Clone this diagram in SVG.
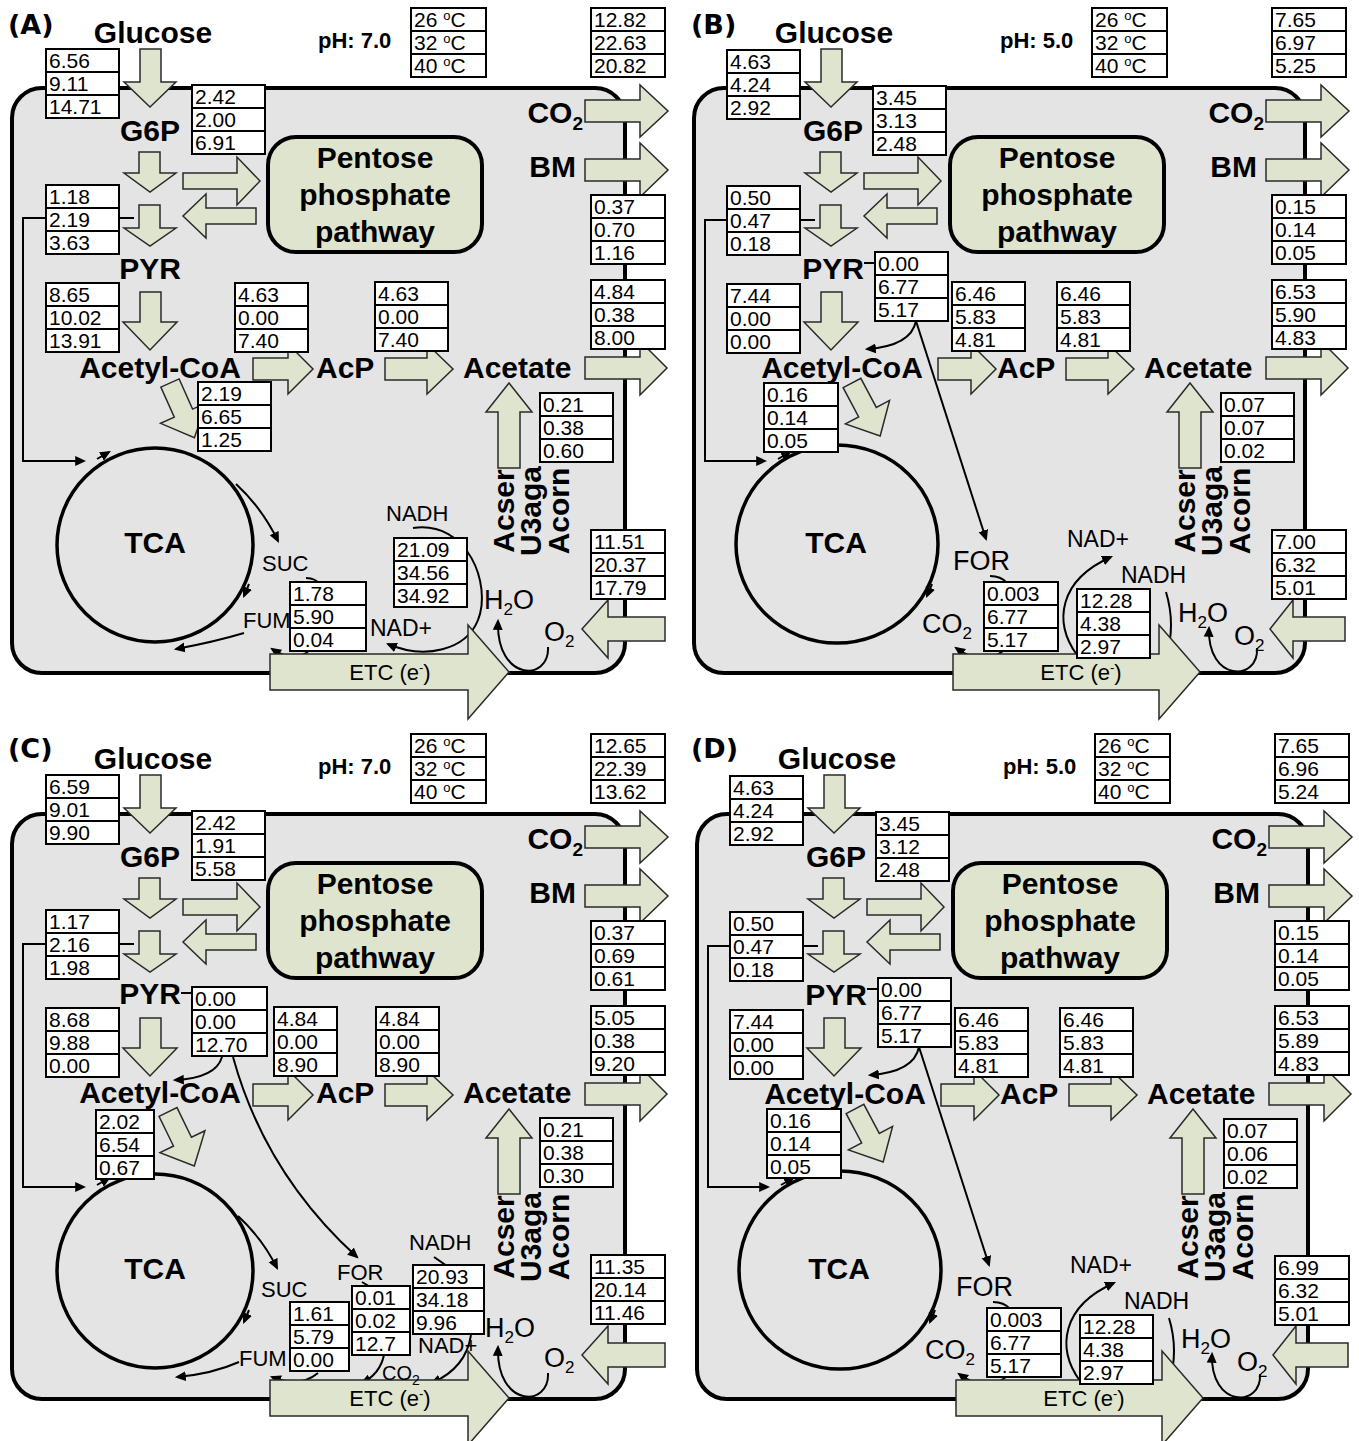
<svg xmlns="http://www.w3.org/2000/svg" width="1359" height="1441" viewBox="0 0 1359 1441">
<defs>
<style>
.cell{fill:#e4e4e4;stroke:#000;stroke-width:4}
.ppp{fill:#dfe4cf;stroke:#000;stroke-width:4}
.ba{fill:#dfe4cf;stroke:#2a2a2a;stroke-width:1.5}
.fb{fill:#fff;stroke:#000;stroke-width:2}
.gl{fill:none;stroke:#000;stroke-width:2}
.ln{fill:none;stroke:#000;stroke-width:2}
.ar{fill:none;stroke:#000;stroke-width:2;marker-end:url(#ah)}
.tca{fill:none;stroke:#000;stroke-width:3.5}
text{font-family:"Liberation Sans",Arial,sans-serif;fill:#000}
.pl{font-family:"DejaVu Sans",sans-serif;font-weight:bold;font-size:27px}
.lb{font-weight:bold;font-size:30px}
.ph{font-weight:bold;font-size:22px}
.n{font-size:21px}
.s{font-size:22px}
.s23{font-size:23px}
.m{font-size:27px}
.e{font-size:22px}
.c2{font-size:20px}
.sup{font-size:13px}
.sub{font-size:19px}
.subm{font-size:17px}
.subs{font-size:14px}
.mid{text-anchor:middle}
.end{text-anchor:end}
</style>
<marker id="ah" viewBox="0 0 10 10" refX="8" refY="5" markerWidth="11" markerHeight="11" markerUnits="userSpaceOnUse" orient="auto"><path d="M0,0.5L10,5L0,9.5Z" fill="#000"/></marker>
</defs>
<rect width="1359" height="1441" fill="#fff"/>

<!-- ================= PANEL A ================= -->
<g id="panelA">
<text id="A-tag" class="pl" x="8" y="34">(A)</text>
<g id="A-cell"><rect class="cell" x="12" y="88" width="613" height="585" rx="30"/></g>
<g id="A-connectors">
 <ellipse class="tca" cx="155" cy="545" rx="98" ry="97"/>
 <path class="ar" d="M46,218H23V461H84"/>
 <path class="ln" d="M119,218H134"/>
 <path class="ar" d="M97,459L109,452"/>
 <path class="ar" d="M249,584L244,596"/>
 <path class="ar" d="M236,484Q262,508 278,541"/>
 <path class="ln" d="M306,578Q316,578 320,585"/>
 <path class="ar" d="M244,633Q214,642 176,649"/>
 <path class="ar" d="M308,652Q292,662 272,649"/>
 <path class="ar" d="M413,528C468,520 492,585 478,620C466,650 425,660 388,644"/>
 <path class="ar" d="M548,647C550,682 496,682 498,621"/>
 <path class="ba" d="M140,49H161V82H176L150,107L124,82H140Z"/>
 <path class="ba" d="M139,152H160V173H176L150,192L124,173H139Z"/>
 <path class="ba" d="M139,205H160V228H176L150,246L124,228H139Z"/>
 <path class="ba" d="M183,173H237V157L260,181L237,205V189H183Z"/>
 <path class="ba" d="M256,208V224H206V238L183,216L206,194V208Z"/>
 <path class="ba" d="M140,292H161V322H177L150,350L123,322H140Z"/>
 <path class="ba" d="M253,358H288V344L313,369L288,394V380H253Z"/>
 <path class="ba" d="M385,358H427V344L453,369L427,394V380H385Z"/>
 <path class="ba" d="M585,357H640V341L667,368L640,395V379H585Z"/>
 <path class="ba" d="M585,100H640V85L668,111L640,137V122H585Z"/>
 <path class="ba" d="M585,159H640V143L668,170L640,197V181H585Z"/>
 <path class="ba" d="M498,468V412H486L509,383L532,412H520V468Z"/>
 <path class="ba" d="M-10,0H10V33H25L0,60L-25,33H-10Z" transform="translate(170,383) rotate(-24)"/>
 <path class="ba" d="M665,617H608V600L582,629L608,658V641H665Z"/>
 <path class="ba" d="M270,654H468V625L509,672L468,719V690H270Z"/>
</g>
<g id="A-ppp"><rect class="ppp" x="268" y="137" width="214" height="115" rx="28"/><text class="lb mid" x="375" y="168">Pentose</text><text class="lb mid" x="375" y="205">phosphate</text><text class="lb mid" x="375" y="242">pathway</text></g>
<g id="A-temp" transform="translate(411,8)"><rect class="fb" width="75" height="69"/><path class="gl" d="M0,23H75M0,46H75"/><text class="n" x="3" y="19">26 <tspan class="sup" dy="-7">o</tspan><tspan dy="7">C</tspan></text><text class="n" x="3" y="42">32 <tspan class="sup" dy="-7">o</tspan><tspan dy="7">C</tspan></text><text class="n" x="3" y="65">40 <tspan class="sup" dy="-7">o</tspan><tspan dy="7">C</tspan></text></g>
<g id="A-v-glc" transform="translate(46,49)"><rect class="fb" width="73" height="69"/><path class="gl" d="M0,23H73M0,46H73"/><text class="n" x="3" y="19">6.56</text><text class="n" x="3" y="42">9.11</text><text class="n" x="3" y="65">14.71</text></g>
<g id="A-v-ppp" transform="translate(192,85)"><rect class="fb" width="73" height="69"/><path class="gl" d="M0,23H73M0,46H73"/><text class="n" x="3" y="19">2.42</text><text class="n" x="3" y="42">2.00</text><text class="n" x="3" y="65">6.91</text></g>
<g id="A-v-co2" transform="translate(591,8)"><rect class="fb" width="74" height="69"/><path class="gl" d="M0,23H74M0,46H74"/><text class="n" x="3" y="19">12.82</text><text class="n" x="3" y="42">22.63</text><text class="n" x="3" y="65">20.82</text></g>
<g id="A-v-bm" transform="translate(591,195)"><rect class="fb" width="74" height="69"/><path class="gl" d="M0,23H74M0,46H74"/><text class="n" x="3" y="19">0.37</text><text class="n" x="3" y="42">0.70</text><text class="n" x="3" y="65">1.16</text></g>
<g id="A-v-pyr" transform="translate(46,185)"><rect class="fb" width="73" height="69"/><path class="gl" d="M0,23H73M0,46H73"/><text class="n" x="3" y="19">1.18</text><text class="n" x="3" y="42">2.19</text><text class="n" x="3" y="65">3.63</text></g>
<g id="A-v-pdh" transform="translate(46,283)"><rect class="fb" width="73" height="69"/><path class="gl" d="M0,23H73M0,46H73"/><text class="n" x="3" y="19">8.65</text><text class="n" x="3" y="42">10.02</text><text class="n" x="3" y="65">13.91</text></g>
<g id="A-v-pta" transform="translate(235,283)"><rect class="fb" width="73" height="69"/><path class="gl" d="M0,23H73M0,46H73"/><text class="n" x="3" y="19">4.63</text><text class="n" x="3" y="42">0.00</text><text class="n" x="3" y="65">7.40</text></g>
<g id="A-v-ack" transform="translate(375,282)"><rect class="fb" width="73" height="69"/><path class="gl" d="M0,23H73M0,46H73"/><text class="n" x="3" y="19">4.63</text><text class="n" x="3" y="42">0.00</text><text class="n" x="3" y="65">7.40</text></g>
<g id="A-v-ace" transform="translate(591,280)"><rect class="fb" width="74" height="69"/><path class="gl" d="M0,23H74M0,46H74"/><text class="n" x="3" y="19">4.84</text><text class="n" x="3" y="42">0.38</text><text class="n" x="3" y="65">8.00</text></g>
<g id="A-v-cs" transform="translate(198,382)"><rect class="fb" width="73" height="69"/><path class="gl" d="M0,23H73M0,46H73"/><text class="n" x="3" y="19">2.19</text><text class="n" x="3" y="42">6.65</text><text class="n" x="3" y="65">1.25</text></g>
<g id="A-v-acein" transform="translate(540,393)"><rect class="fb" width="73" height="69"/><path class="gl" d="M0,23H73M0,46H73"/><text class="n" x="3" y="19">0.21</text><text class="n" x="3" y="42">0.38</text><text class="n" x="3" y="65">0.60</text></g>
<g id="A-v-sdh" transform="translate(290,582)"><rect class="fb" width="76" height="69"/><path class="gl" d="M0,23H76M0,46H76"/><text class="n" x="3" y="19">1.78</text><text class="n" x="3" y="42">5.90</text><text class="n" x="3" y="65">0.04</text></g>
<g id="A-v-nadh" transform="translate(394,538)"><rect class="fb" width="73" height="69"/><path class="gl" d="M0,23H73M0,46H73"/><text class="n" x="3" y="19">21.09</text><text class="n" x="3" y="42">34.56</text><text class="n" x="3" y="65">34.92</text></g>
<g id="A-v-o2" transform="translate(591,530)"><rect class="fb" width="74" height="69"/><path class="gl" d="M0,23H74M0,46H74"/><text class="n" x="3" y="19">11.51</text><text class="n" x="3" y="42">20.37</text><text class="n" x="3" y="65">17.79</text></g>
<g id="A-ph"><text class="ph" x="318" y="48">pH: 7.0</text></g>
<g id="A-glucose"><text class="lb mid" x="153" y="43">Glucose</text></g>
<g id="A-g6p"><text class="lb mid" x="150" y="141">G6P</text></g>
<g id="A-pyr"><text class="lb mid" x="150" y="279">PYR</text></g>
<g id="A-accoa"><text class="lb mid" x="160" y="378">Acetyl-CoA</text></g>
<g id="A-acp"><text class="lb" x="316" y="378">AcP</text></g>
<g id="A-acetate"><text class="lb" x="463" y="378">Acetate</text></g>
<g id="A-co2"><text class="lb end" x="583" y="123">CO<tspan class="sub" dy="7">2</tspan></text></g>
<g id="A-bm"><text class="lb end" x="576" y="177">BM</text></g>
<g id="A-strains" class="lb"><text transform="translate(514,511) rotate(-90)" class="mid">Acser</text><text transform="translate(541,511) rotate(-90)" class="mid">U3aga</text><text transform="translate(569,511) rotate(-90)" class="mid">Acorn</text></g>
<g id="A-tca"><text class="lb mid" x="155" y="553">TCA</text></g>
<g id="A-suc"><text class="s" x="262" y="571">SUC</text></g>
<g id="A-fum"><text class="s" x="243" y="628">FUM</text></g>
<g id="A-nadh"><text class="s" x="386" y="521">NADH</text></g>
<g id="A-nad"><text class="s23" x="370" y="636">NAD+</text></g>
<g id="A-h2o"><text class="m" x="484" y="609">H<tspan class="subm" dy="6">2</tspan><tspan dy="-6">O</tspan></text></g>
<g id="A-o2"><text class="m" x="544" y="641">O<tspan class="subm" dy="6">2</tspan></text></g>
<g id="A-etc"><text class="e mid" x="390" y="680">ETC (e<tspan class="sup" dy="-8">-</tspan><tspan dy="8">)</tspan></text></g>
</g>

<!-- ================= PANEL C ================= -->
<g id="panelC" transform="translate(0,726)">
<text id="C-tag" class="pl" x="8" y="32">(C)</text>
<g id="C-cell"><rect class="cell" x="12" y="88" width="613" height="585" rx="30"/></g>
<g id="C-connectors">
 <ellipse class="tca" cx="155" cy="545" rx="98" ry="97"/>
 <path class="ar" d="M46,218H23V461H84"/>
 <path class="ln" d="M119,218H134"/>
 <path class="ln" d="M181,267H192"/>
 <path class="ar" d="M97,459L109,452"/>
 <path class="ar" d="M249,584L244,596"/>
 <path class="ar" d="M238,490Q262,512 277,542"/>
 <path class="ar" d="M239,636Q212,648 177,651"/>
 <path class="ar" d="M318,647Q300,662 272,651"/>
 <path class="ar" d="M222,331Q216,352 175,354"/>
 <path class="ar" d="M233,331C252,400 290,470 357,531"/>
 <path class="ln" d="M362,556L372,562"/>
 <path class="ln" d="M434,531L447,540"/>
 <path class="ar" d="M384,629Q380,648 362,657"/>
 <path class="ar" d="M471,609Q466,642 432,657"/>
 <path class="ar" d="M548,647C550,682 496,682 498,621"/>
 <path class="ba" d="M140,49H161V82H176L150,107L124,82H140Z"/>
 <path class="ba" d="M139,152H160V173H176L150,192L124,173H139Z"/>
 <path class="ba" d="M139,205H160V228H176L150,246L124,228H139Z"/>
 <path class="ba" d="M183,173H237V157L260,181L237,205V189H183Z"/>
 <path class="ba" d="M256,208V224H206V238L183,216L206,194V208Z"/>
 <path class="ba" d="M140,292H161V322H177L150,350L123,322H140Z"/>
 <path class="ba" d="M253,358H288V344L313,369L288,394V380H253Z"/>
 <path class="ba" d="M385,358H427V344L453,369L427,394V380H385Z"/>
 <path class="ba" d="M585,357H640V341L667,368L640,395V379H585Z"/>
 <path class="ba" d="M585,100H640V85L668,111L640,137V122H585Z"/>
 <path class="ba" d="M585,159H640V143L668,170L640,197V181H585Z"/>
 <path class="ba" d="M498,468V412H486L509,383L532,412H520V468Z"/>
 <path class="ba" d="M-10,0H10V33H25L0,60L-25,33H-10Z" transform="translate(168,386) rotate(-26)"/>
 <path class="ba" d="M665,617H608V600L582,629L608,658V641H665Z"/>
 <path class="ba" d="M270,654H468V625L509,672L468,719V690H270Z"/>
</g>
<g id="C-ppp"><rect class="ppp" x="268" y="137" width="214" height="115" rx="28"/><text class="lb mid" x="375" y="168">Pentose</text><text class="lb mid" x="375" y="205">phosphate</text><text class="lb mid" x="375" y="242">pathway</text></g>
<g id="C-temp" transform="translate(411,8)"><rect class="fb" width="75" height="69"/><path class="gl" d="M0,23H75M0,46H75"/><text class="n" x="3" y="19">26 <tspan class="sup" dy="-7">o</tspan><tspan dy="7">C</tspan></text><text class="n" x="3" y="42">32 <tspan class="sup" dy="-7">o</tspan><tspan dy="7">C</tspan></text><text class="n" x="3" y="65">40 <tspan class="sup" dy="-7">o</tspan><tspan dy="7">C</tspan></text></g>
<g id="C-v-glc" transform="translate(46,49)"><rect class="fb" width="73" height="69"/><path class="gl" d="M0,23H73M0,46H73"/><text class="n" x="3" y="19">6.59</text><text class="n" x="3" y="42">9.01</text><text class="n" x="3" y="65">9.90</text></g>
<g id="C-v-ppp" transform="translate(192,85)"><rect class="fb" width="73" height="69"/><path class="gl" d="M0,23H73M0,46H73"/><text class="n" x="3" y="19">2.42</text><text class="n" x="3" y="42">1.91</text><text class="n" x="3" y="65">5.58</text></g>
<g id="C-v-co2" transform="translate(591,8)"><rect class="fb" width="74" height="69"/><path class="gl" d="M0,23H74M0,46H74"/><text class="n" x="3" y="19">12.65</text><text class="n" x="3" y="42">22.39</text><text class="n" x="3" y="65">13.62</text></g>
<g id="C-v-bm" transform="translate(591,195)"><rect class="fb" width="74" height="69"/><path class="gl" d="M0,23H74M0,46H74"/><text class="n" x="3" y="19">0.37</text><text class="n" x="3" y="42">0.69</text><text class="n" x="3" y="65">0.61</text></g>
<g id="C-v-pyr" transform="translate(46,184)"><rect class="fb" width="73" height="69"/><path class="gl" d="M0,23H73M0,46H73"/><text class="n" x="3" y="19">1.17</text><text class="n" x="3" y="42">2.16</text><text class="n" x="3" y="65">1.98</text></g>
<g id="C-v-pfl" transform="translate(192,261)"><rect class="fb" width="75" height="69"/><path class="gl" d="M0,23H75M0,46H75"/><text class="n" x="3" y="19">0.00</text><text class="n" x="3" y="42">0.00</text><text class="n" x="3" y="65">12.70</text></g>
<g id="C-v-pdh" transform="translate(46,282)"><rect class="fb" width="73" height="69"/><path class="gl" d="M0,23H73M0,46H73"/><text class="n" x="3" y="19">8.68</text><text class="n" x="3" y="42">9.88</text><text class="n" x="3" y="65">0.00</text></g>
<g id="C-v-pta" transform="translate(274,281)"><rect class="fb" width="63" height="69"/><path class="gl" d="M0,23H63M0,46H63"/><text class="n" x="3" y="19">4.84</text><text class="n" x="3" y="42">0.00</text><text class="n" x="3" y="65">8.90</text></g>
<g id="C-v-ack" transform="translate(376,281)"><rect class="fb" width="63" height="69"/><path class="gl" d="M0,23H63M0,46H63"/><text class="n" x="3" y="19">4.84</text><text class="n" x="3" y="42">0.00</text><text class="n" x="3" y="65">8.90</text></g>
<g id="C-v-ace" transform="translate(591,280)"><rect class="fb" width="74" height="69"/><path class="gl" d="M0,23H74M0,46H74"/><text class="n" x="3" y="19">5.05</text><text class="n" x="3" y="42">0.38</text><text class="n" x="3" y="65">9.20</text></g>
<g id="C-v-cs" transform="translate(96,384)"><rect class="fb" width="58" height="69"/><path class="gl" d="M0,23H58M0,46H58"/><text class="n" x="3" y="19">2.02</text><text class="n" x="3" y="42">6.54</text><text class="n" x="3" y="65">0.67</text></g>
<g id="C-v-acein" transform="translate(540,392)"><rect class="fb" width="73" height="69"/><path class="gl" d="M0,23H73M0,46H73"/><text class="n" x="3" y="19">0.21</text><text class="n" x="3" y="42">0.38</text><text class="n" x="3" y="65">0.30</text></g>
<g id="C-v-sdh" transform="translate(290,576)"><rect class="fb" width="59" height="69"/><path class="gl" d="M0,23H59M0,46H59"/><text class="n" x="3" y="19">1.61</text><text class="n" x="3" y="42">5.79</text><text class="n" x="3" y="65">0.00</text></g>
<g id="C-v-fdh" transform="translate(352,560)"><rect class="fb" width="58" height="69"/><path class="gl" d="M0,23H58M0,46H58"/><text class="n" x="3" y="19">0.01</text><text class="n" x="3" y="42">0.02</text><text class="n" x="3" y="65">12.7</text></g>
<g id="C-v-nadh" transform="translate(413,539)"><rect class="fb" width="71" height="69"/><path class="gl" d="M0,23H71M0,46H71"/><text class="n" x="3" y="19">20.93</text><text class="n" x="3" y="42">34.18</text><text class="n" x="3" y="65">9.96</text></g>
<g id="C-v-o2" transform="translate(591,529)"><rect class="fb" width="74" height="69"/><path class="gl" d="M0,23H74M0,46H74"/><text class="n" x="3" y="19">11.35</text><text class="n" x="3" y="42">20.14</text><text class="n" x="3" y="65">11.46</text></g>
<g id="C-ph"><text class="ph" x="318" y="48">pH: 7.0</text></g>
<g id="C-glucose"><text class="lb mid" x="153" y="43">Glucose</text></g>
<g id="C-g6p"><text class="lb mid" x="150" y="141">G6P</text></g>
<g id="C-pyr"><text class="lb mid" x="150" y="278">PYR</text></g>
<g id="C-accoa"><text class="lb mid" x="160" y="377">Acetyl-CoA</text></g>
<g id="C-acp"><text class="lb" x="316" y="377">AcP</text></g>
<g id="C-acetate"><text class="lb" x="463" y="377">Acetate</text></g>
<g id="C-co2"><text class="lb end" x="583" y="123">CO<tspan class="sub" dy="7">2</tspan></text></g>
<g id="C-bm"><text class="lb end" x="576" y="177">BM</text></g>
<g id="C-strains" class="lb"><text transform="translate(514,511) rotate(-90)" class="mid">Acser</text><text transform="translate(541,511) rotate(-90)" class="mid">U3aga</text><text transform="translate(569,511) rotate(-90)" class="mid">Acorn</text></g>
<g id="C-tca"><text class="lb mid" x="155" y="553">TCA</text></g>
<g id="C-suc"><text class="s" x="261" y="571">SUC</text></g>
<g id="C-fum"><text class="s" x="239" y="640">FUM</text></g>
<g id="C-for"><text class="s" x="337" y="554">FOR</text></g>
<g id="C-nadh"><text class="s" x="409" y="524">NADH</text></g>
<g id="C-nad"><text class="s" x="418" y="627">NAD+</text></g>
<g id="C-co2b"><text class="c2" x="382" y="654">CO<tspan class="subs" dy="5">2</tspan></text></g>
<g id="C-h2o"><text class="m" x="485" y="611">H<tspan class="subm" dy="6">2</tspan><tspan dy="-6">O</tspan></text></g>
<g id="C-o2"><text class="m" x="544" y="641">O<tspan class="subm" dy="6">2</tspan></text></g>
<g id="C-etc"><text class="e mid" x="390" y="680">ETC (e<tspan class="sup" dy="-8">-</tspan><tspan dy="8">)</tspan></text></g>
</g>

<!-- ================= PANEL B ================= -->
<g id="panelB" transform="translate(681,0)">
<text id="B-tag" class="pl" x="10" y="34">(B)</text>
<g id="B-cell"><rect class="cell" x="13" y="88" width="611" height="585" rx="30"/></g>
<g id="B-connectors">
 <ellipse class="tca" cx="156" cy="544" rx="101" ry="99"/>
 <path class="ar" d="M46,220H24V461H84"/>
 <path class="ln" d="M119,220H134"/>
 <path class="ln" d="M183,263H194"/>
 <path class="ar" d="M97,459L109,452"/>
 <path class="ar" d="M251,584L246,596"/>
 <path class="ar" d="M235,321Q230,346 186,349"/>
 <path class="ar" d="M235,321L305,539"/>
 <path class="ln" d="M309,576Q320,576 326,583"/>
 <path class="ar" d="M322,651Q302,667 275,648"/>
 <path class="ar" d="M396,655C372,622 378,580 430,557"/>
 <path class="ln" d="M485,592Q495,625 485,658"/>
 <path class="ar" d="M576,648C578,682 526,682 528,628"/>
 <path class="ba" d="M140,49H161V82H176L150,107L124,82H140Z"/>
 <path class="ba" d="M139,152H160V173H176L150,192L124,173H139Z"/>
 <path class="ba" d="M139,205H160V228H176L150,246L124,228H139Z"/>
 <path class="ba" d="M183,173H237V157L260,181L237,205V189H183Z"/>
 <path class="ba" d="M256,208V224H206V238L183,216L206,194V208Z"/>
 <path class="ba" d="M140,292H161V322H177L150,350L123,322H140Z"/>
 <path class="ba" d="M257,358H290V344L315,369L290,394V380H257Z"/>
 <path class="ba" d="M385,358H427V344L453,369L427,394V380H385Z"/>
 <path class="ba" d="M585,357H640V341L667,368L640,395V379H585Z"/>
 <path class="ba" d="M585,100H640V85L668,111L640,137V122H585Z"/>
 <path class="ba" d="M585,159H640V143L668,170L640,197V181H585Z"/>
 <path class="ba" d="M498,468V412H486L509,383L532,412H520V468Z"/>
 <path class="ba" d="M-10,0H10V33H25L0,60L-25,33H-10Z" transform="translate(171,383) rotate(-28)"/>
 <path class="ba" d="M664,617H612V600L589,629L612,658V641H664Z"/>
 <path class="ba" d="M272,654H478V625L519,672L478,719V690H272Z"/>
</g>
<g id="B-ppp"><rect class="ppp" x="269" y="137" width="214" height="115" rx="28"/><text class="lb mid" x="376" y="168">Pentose</text><text class="lb mid" x="376" y="205">phosphate</text><text class="lb mid" x="376" y="242">pathway</text></g>
<g id="B-temp" transform="translate(411,8)"><rect class="fb" width="75" height="69"/><path class="gl" d="M0,23H75M0,46H75"/><text class="n" x="3" y="19">26 <tspan class="sup" dy="-7">o</tspan><tspan dy="7">C</tspan></text><text class="n" x="3" y="42">32 <tspan class="sup" dy="-7">o</tspan><tspan dy="7">C</tspan></text><text class="n" x="3" y="65">40 <tspan class="sup" dy="-7">o</tspan><tspan dy="7">C</tspan></text></g>
<g id="B-v-glc" transform="translate(46,50)"><rect class="fb" width="73" height="69"/><path class="gl" d="M0,23H73M0,46H73"/><text class="n" x="3" y="19">4.63</text><text class="n" x="3" y="42">4.24</text><text class="n" x="3" y="65">2.92</text></g>
<g id="B-v-ppp" transform="translate(192,86)"><rect class="fb" width="73" height="69"/><path class="gl" d="M0,23H73M0,46H73"/><text class="n" x="3" y="19">3.45</text><text class="n" x="3" y="42">3.13</text><text class="n" x="3" y="65">2.48</text></g>
<g id="B-v-co2" transform="translate(591,8)"><rect class="fb" width="74" height="69"/><path class="gl" d="M0,23H74M0,46H74"/><text class="n" x="3" y="19">7.65</text><text class="n" x="3" y="42">6.97</text><text class="n" x="3" y="65">5.25</text></g>
<g id="B-v-bm" transform="translate(591,195)"><rect class="fb" width="74" height="69"/><path class="gl" d="M0,23H74M0,46H74"/><text class="n" x="3" y="19">0.15</text><text class="n" x="3" y="42">0.14</text><text class="n" x="3" y="65">0.05</text></g>
<g id="B-v-pyr" transform="translate(46,186)"><rect class="fb" width="73" height="69"/><path class="gl" d="M0,23H73M0,46H73"/><text class="n" x="3" y="19">0.50</text><text class="n" x="3" y="42">0.47</text><text class="n" x="3" y="65">0.18</text></g>
<g id="B-v-pfl" transform="translate(194,252)"><rect class="fb" width="73" height="69"/><path class="gl" d="M0,23H73M0,46H73"/><text class="n" x="3" y="19">0.00</text><text class="n" x="3" y="42">6.77</text><text class="n" x="3" y="65">5.17</text></g>
<g id="B-v-pdh" transform="translate(46,284)"><rect class="fb" width="73" height="69"/><path class="gl" d="M0,23H73M0,46H73"/><text class="n" x="3" y="19">7.44</text><text class="n" x="3" y="42">0.00</text><text class="n" x="3" y="65">0.00</text></g>
<g id="B-v-pta" transform="translate(271,282)"><rect class="fb" width="73" height="69"/><path class="gl" d="M0,23H73M0,46H73"/><text class="n" x="3" y="19">6.46</text><text class="n" x="3" y="42">5.83</text><text class="n" x="3" y="65">4.81</text></g>
<g id="B-v-ack" transform="translate(376,282)"><rect class="fb" width="73" height="69"/><path class="gl" d="M0,23H73M0,46H73"/><text class="n" x="3" y="19">6.46</text><text class="n" x="3" y="42">5.83</text><text class="n" x="3" y="65">4.81</text></g>
<g id="B-v-ace" transform="translate(591,280)"><rect class="fb" width="74" height="69"/><path class="gl" d="M0,23H74M0,46H74"/><text class="n" x="3" y="19">6.53</text><text class="n" x="3" y="42">5.90</text><text class="n" x="3" y="65">4.83</text></g>
<g id="B-v-cs" transform="translate(83,383)"><rect class="fb" width="74" height="69"/><path class="gl" d="M0,23H74M0,46H74"/><text class="n" x="3" y="19">0.16</text><text class="n" x="3" y="42">0.14</text><text class="n" x="3" y="65">0.05</text></g>
<g id="B-v-acein" transform="translate(540,393)"><rect class="fb" width="73" height="69"/><path class="gl" d="M0,23H73M0,46H73"/><text class="n" x="3" y="19">0.07</text><text class="n" x="3" y="42">0.07</text><text class="n" x="3" y="65">0.02</text></g>
<g id="B-v-fdh" transform="translate(303,582)"><rect class="fb" width="74" height="69"/><path class="gl" d="M0,23H74M0,46H74"/><text class="n" x="3" y="19">0.003</text><text class="n" x="3" y="42">6.77</text><text class="n" x="3" y="65">5.17</text></g>
<g id="B-v-nadh" transform="translate(396,589)"><rect class="fb" width="73" height="69"/><path class="gl" d="M0,23H73M0,46H73"/><text class="n" x="3" y="19">12.28</text><text class="n" x="3" y="42">4.38</text><text class="n" x="3" y="65">2.97</text></g>
<g id="B-v-o2" transform="translate(591,530)"><rect class="fb" width="74" height="69"/><path class="gl" d="M0,23H74M0,46H74"/><text class="n" x="3" y="19">7.00</text><text class="n" x="3" y="42">6.32</text><text class="n" x="3" y="65">5.01</text></g>
<g id="B-ph"><text class="ph" x="319" y="48">pH: 5.0</text></g>
<g id="B-glucose"><text class="lb mid" x="153" y="43">Glucose</text></g>
<g id="B-g6p"><text class="lb mid" x="152" y="141">G6P</text></g>
<g id="B-pyr"><text class="lb mid" x="152" y="279">PYR</text></g>
<g id="B-accoa"><text class="lb mid" x="161" y="378">Acetyl-CoA</text></g>
<g id="B-acp"><text class="lb" x="316" y="378">AcP</text></g>
<g id="B-acetate"><text class="lb" x="463" y="378">Acetate</text></g>
<g id="B-co2"><text class="lb end" x="583" y="123">CO<tspan class="sub" dy="7">2</tspan></text></g>
<g id="B-bm"><text class="lb end" x="576" y="177">BM</text></g>
<g id="B-strains" class="lb"><text transform="translate(514,511) rotate(-90)" class="mid">Acser</text><text transform="translate(541,511) rotate(-90)" class="mid">U3aga</text><text transform="translate(569,511) rotate(-90)" class="mid">Acorn</text></g>
<g id="B-tca"><text class="lb mid" x="155" y="553">TCA</text></g>
<g id="B-for"><text class="m" x="272" y="570">FOR</text></g>
<g id="B-co2b"><text class="m" x="241" y="633">CO<tspan class="subm" dy="6">2</tspan></text></g>
<g id="B-nad"><text class="s23" x="386" y="547">NAD+</text></g>
<g id="B-nadh"><text class="s23" x="440" y="583">NADH</text></g>
<g id="B-h2o"><text class="m" x="497" y="622">H<tspan class="subm" dy="6">2</tspan><tspan dy="-6">O</tspan></text></g>
<g id="B-o2"><text class="m" x="553" y="645">O<tspan class="subm" dy="6">2</tspan></text></g>
<g id="B-etc"><text class="e mid" x="400" y="680">ETC (e<tspan class="sup" dy="-8">-</tspan><tspan dy="8">)</tspan></text></g>
</g>

<!-- ================= PANEL D ================= -->
<g id="panelD" transform="translate(684,726)">
<text id="D-tag" class="pl" x="7" y="32">(D)</text>
<g id="D-cell"><rect class="cell" x="13" y="88" width="611" height="585" rx="30"/></g>
<g id="D-connectors">
 <ellipse class="tca" cx="156" cy="544" rx="101" ry="99"/>
 <path class="ar" d="M46,220H24V461H84"/>
 <path class="ln" d="M119,220H134"/>
 <path class="ln" d="M183,263H194"/>
 <path class="ar" d="M97,459L109,452"/>
 <path class="ar" d="M251,584L246,596"/>
 <path class="ar" d="M235,321Q230,346 186,349"/>
 <path class="ar" d="M235,321L305,539"/>
 <path class="ln" d="M309,576Q320,576 326,583"/>
 <path class="ar" d="M322,651Q302,667 275,648"/>
 <path class="ar" d="M396,655C372,622 378,580 430,557"/>
 <path class="ln" d="M485,592Q495,625 485,658"/>
 <path class="ar" d="M576,648C578,682 526,682 528,628"/>
 <path class="ba" d="M140,49H161V82H176L150,107L124,82H140Z"/>
 <path class="ba" d="M139,152H160V173H176L150,192L124,173H139Z"/>
 <path class="ba" d="M139,205H160V228H176L150,246L124,228H139Z"/>
 <path class="ba" d="M183,173H237V157L260,181L237,205V189H183Z"/>
 <path class="ba" d="M256,208V224H206V238L183,216L206,194V208Z"/>
 <path class="ba" d="M140,292H161V322H177L150,350L123,322H140Z"/>
 <path class="ba" d="M257,358H290V344L315,369L290,394V380H257Z"/>
 <path class="ba" d="M385,358H427V344L453,369L427,394V380H385Z"/>
 <path class="ba" d="M585,357H640V341L667,368L640,395V379H585Z"/>
 <path class="ba" d="M585,100H640V85L668,111L640,137V122H585Z"/>
 <path class="ba" d="M585,159H640V143L668,170L640,197V181H585Z"/>
 <path class="ba" d="M498,468V412H486L509,383L532,412H520V468Z"/>
 <path class="ba" d="M-10,0H10V33H25L0,60L-25,33H-10Z" transform="translate(171,383) rotate(-28)"/>
 <path class="ba" d="M664,617H612V600L589,629L612,658V641H664Z"/>
 <path class="ba" d="M272,654H478V625L519,672L478,719V690H272Z"/>
</g>
<g id="D-ppp"><rect class="ppp" x="269" y="137" width="214" height="115" rx="28"/><text class="lb mid" x="376" y="168">Pentose</text><text class="lb mid" x="376" y="205">phosphate</text><text class="lb mid" x="376" y="242">pathway</text></g>
<g id="D-temp" transform="translate(411,8)"><rect class="fb" width="75" height="69"/><path class="gl" d="M0,23H75M0,46H75"/><text class="n" x="3" y="19">26 <tspan class="sup" dy="-7">o</tspan><tspan dy="7">C</tspan></text><text class="n" x="3" y="42">32 <tspan class="sup" dy="-7">o</tspan><tspan dy="7">C</tspan></text><text class="n" x="3" y="65">40 <tspan class="sup" dy="-7">o</tspan><tspan dy="7">C</tspan></text></g>
<g id="D-v-glc" transform="translate(46,50)"><rect class="fb" width="73" height="69"/><path class="gl" d="M0,23H73M0,46H73"/><text class="n" x="3" y="19">4.63</text><text class="n" x="3" y="42">4.24</text><text class="n" x="3" y="65">2.92</text></g>
<g id="D-v-ppp" transform="translate(192,86)"><rect class="fb" width="73" height="69"/><path class="gl" d="M0,23H73M0,46H73"/><text class="n" x="3" y="19">3.45</text><text class="n" x="3" y="42">3.12</text><text class="n" x="3" y="65">2.48</text></g>
<g id="D-v-co2" transform="translate(591,8)"><rect class="fb" width="74" height="69"/><path class="gl" d="M0,23H74M0,46H74"/><text class="n" x="3" y="19">7.65</text><text class="n" x="3" y="42">6.96</text><text class="n" x="3" y="65">5.24</text></g>
<g id="D-v-bm" transform="translate(591,195)"><rect class="fb" width="74" height="69"/><path class="gl" d="M0,23H74M0,46H74"/><text class="n" x="3" y="19">0.15</text><text class="n" x="3" y="42">0.14</text><text class="n" x="3" y="65">0.05</text></g>
<g id="D-v-pyr" transform="translate(46,186)"><rect class="fb" width="73" height="69"/><path class="gl" d="M0,23H73M0,46H73"/><text class="n" x="3" y="19">0.50</text><text class="n" x="3" y="42">0.47</text><text class="n" x="3" y="65">0.18</text></g>
<g id="D-v-pfl" transform="translate(194,252)"><rect class="fb" width="73" height="69"/><path class="gl" d="M0,23H73M0,46H73"/><text class="n" x="3" y="19">0.00</text><text class="n" x="3" y="42">6.77</text><text class="n" x="3" y="65">5.17</text></g>
<g id="D-v-pdh" transform="translate(46,284)"><rect class="fb" width="73" height="69"/><path class="gl" d="M0,23H73M0,46H73"/><text class="n" x="3" y="19">7.44</text><text class="n" x="3" y="42">0.00</text><text class="n" x="3" y="65">0.00</text></g>
<g id="D-v-pta" transform="translate(271,282)"><rect class="fb" width="73" height="69"/><path class="gl" d="M0,23H73M0,46H73"/><text class="n" x="3" y="19">6.46</text><text class="n" x="3" y="42">5.83</text><text class="n" x="3" y="65">4.81</text></g>
<g id="D-v-ack" transform="translate(376,282)"><rect class="fb" width="73" height="69"/><path class="gl" d="M0,23H73M0,46H73"/><text class="n" x="3" y="19">6.46</text><text class="n" x="3" y="42">5.83</text><text class="n" x="3" y="65">4.81</text></g>
<g id="D-v-ace" transform="translate(591,280)"><rect class="fb" width="74" height="69"/><path class="gl" d="M0,23H74M0,46H74"/><text class="n" x="3" y="19">6.53</text><text class="n" x="3" y="42">5.89</text><text class="n" x="3" y="65">4.83</text></g>
<g id="D-v-cs" transform="translate(83,383)"><rect class="fb" width="74" height="69"/><path class="gl" d="M0,23H74M0,46H74"/><text class="n" x="3" y="19">0.16</text><text class="n" x="3" y="42">0.14</text><text class="n" x="3" y="65">0.05</text></g>
<g id="D-v-acein" transform="translate(540,393)"><rect class="fb" width="73" height="69"/><path class="gl" d="M0,23H73M0,46H73"/><text class="n" x="3" y="19">0.07</text><text class="n" x="3" y="42">0.06</text><text class="n" x="3" y="65">0.02</text></g>
<g id="D-v-fdh" transform="translate(303,582)"><rect class="fb" width="74" height="69"/><path class="gl" d="M0,23H74M0,46H74"/><text class="n" x="3" y="19">0.003</text><text class="n" x="3" y="42">6.77</text><text class="n" x="3" y="65">5.17</text></g>
<g id="D-v-nadh" transform="translate(396,589)"><rect class="fb" width="73" height="69"/><path class="gl" d="M0,23H73M0,46H73"/><text class="n" x="3" y="19">12.28</text><text class="n" x="3" y="42">4.38</text><text class="n" x="3" y="65">2.97</text></g>
<g id="D-v-o2" transform="translate(591,530)"><rect class="fb" width="74" height="69"/><path class="gl" d="M0,23H74M0,46H74"/><text class="n" x="3" y="19">6.99</text><text class="n" x="3" y="42">6.32</text><text class="n" x="3" y="65">5.01</text></g>
<g id="D-ph"><text class="ph" x="319" y="48">pH: 5.0</text></g>
<g id="D-glucose"><text class="lb mid" x="153" y="43">Glucose</text></g>
<g id="D-g6p"><text class="lb mid" x="152" y="141">G6P</text></g>
<g id="D-pyr"><text class="lb mid" x="152" y="279">PYR</text></g>
<g id="D-accoa"><text class="lb mid" x="161" y="378">Acetyl-CoA</text></g>
<g id="D-acp"><text class="lb" x="316" y="378">AcP</text></g>
<g id="D-acetate"><text class="lb" x="463" y="378">Acetate</text></g>
<g id="D-co2"><text class="lb end" x="583" y="123">CO<tspan class="sub" dy="7">2</tspan></text></g>
<g id="D-bm"><text class="lb end" x="576" y="177">BM</text></g>
<g id="D-strains" class="lb"><text transform="translate(514,511) rotate(-90)" class="mid">Acser</text><text transform="translate(541,511) rotate(-90)" class="mid">U3aga</text><text transform="translate(569,511) rotate(-90)" class="mid">Acorn</text></g>
<g id="D-tca"><text class="lb mid" x="155" y="553">TCA</text></g>
<g id="D-for"><text class="m" x="272" y="570">FOR</text></g>
<g id="D-co2b"><text class="m" x="241" y="633">CO<tspan class="subm" dy="6">2</tspan></text></g>
<g id="D-nad"><text class="s23" x="386" y="547">NAD+</text></g>
<g id="D-nadh"><text class="s23" x="440" y="583">NADH</text></g>
<g id="D-h2o"><text class="m" x="497" y="622">H<tspan class="subm" dy="6">2</tspan><tspan dy="-6">O</tspan></text></g>
<g id="D-o2"><text class="m" x="553" y="645">O<tspan class="subm" dy="6">2</tspan></text></g>
<g id="D-etc"><text class="e mid" x="400" y="680">ETC (e<tspan class="sup" dy="-8">-</tspan><tspan dy="8">)</tspan></text></g>
</g>
</svg>
